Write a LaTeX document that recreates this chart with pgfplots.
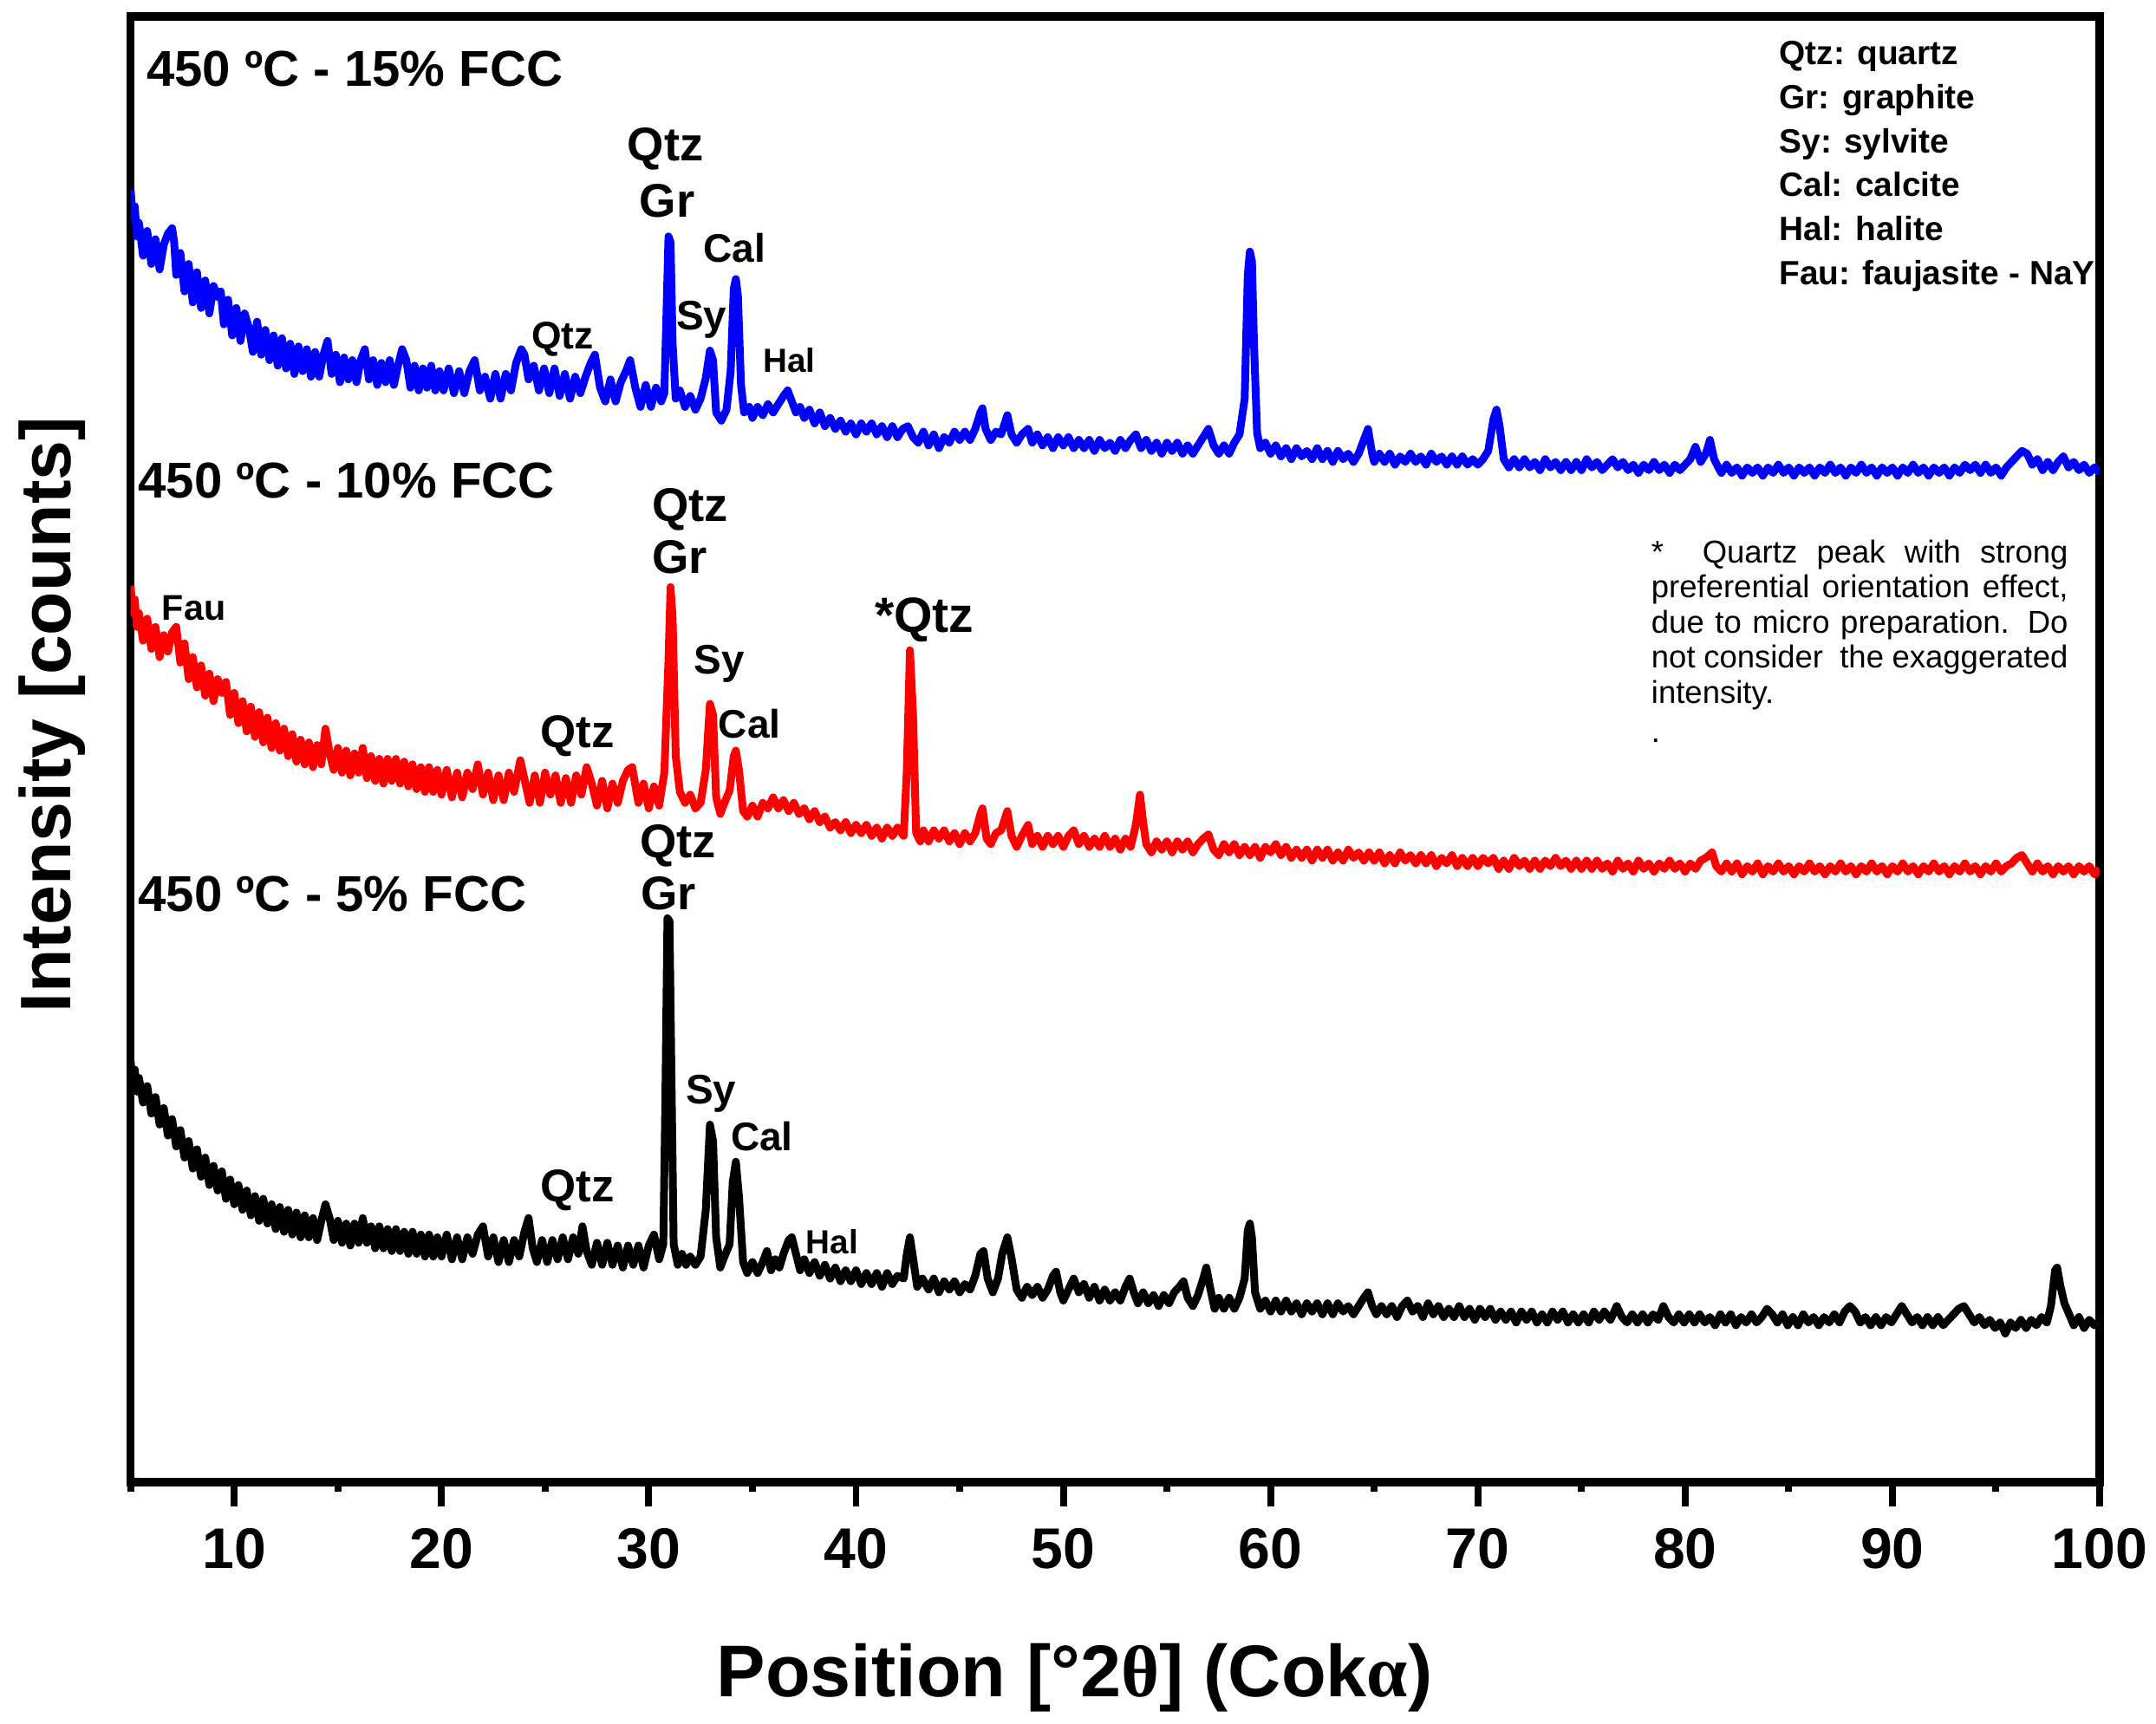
\documentclass[border=0pt]{standalone}
\usepackage{fontspec}
\setmainfont{Liberation Sans}
\newfontfamily\symf{Liberation Serif}
\usepackage{pgfplots}
\pgfplotsset{compat=1.18}
\begin{document}
\begin{tikzpicture}
\begin{axis}[
  at={(0,0)}, anchor=south west,
  width=429.6pt, height=319.8pt, scale only axis,
  xmin=5, xmax=100, ymin=12, ymax=1078, y dir=reverse,
  axis line style={line width=1.8pt},
  xtick={10,20,...,100}, minor xtick={5,15,...,95},
  ytick=\empty,
  tick align=outside, xtick pos=left,
  major tick length=5.4pt, minor tick length=2.2pt,
  tick style={line width=1.5pt, black},
  xticklabel style={font=\fontsize{12.5}{14}\selectfont\bfseries, yshift=-1.2pt},
  /pgf/number format/assume math mode=true,
]
% ---------------- 15% FCC (blue)
\addplot[blue, line width=1.7pt, line join=round, mark=none] coordinates {
(5.0,138)(5.1,158)(5.2,150)(5.3,172)(5.4,162)(5.6,186)(5.8,168)(6.0,192)(6.2,174)(6.4,196)
(6.6,178)(6.8,170)(7.0,166)(7.1,176)(7.2,200)(7.4,184)(7.6,212)(7.8,192)(8.0,220)(8.2,198)
(8.4,224)(8.6,204)(8.8,228)(9.0,208)(9.2,216)(9.35,212)(9.5,236)(9.7,218)(9.9,244)(10.1,224)
(10.3,248)(10.5,228)(10.7,238)(10.9,256)(11.1,234)(11.3,258)(11.5,240)(11.7,262)(11.9,244)(12.1,266)
(12.3,246)(12.5,268)(12.7,250)(12.9,272)(13.1,252)(13.3,270)(13.5,254)(13.7,274)(13.9,256)(14.1,274)
(14.3,258)(14.5,248)(14.7,272)(14.9,258)(15.1,278)(15.3,260)(15.5,276)(15.7,262)(15.9,278)(16.1,262)
(16.3,254)(16.5,276)(16.7,262)(16.9,280)(17.1,264)(17.3,278)(17.5,262)(17.7,280)(17.9,266)(18.1,254)
(18.3,262)(18.5,282)(18.7,266)(18.9,284)(19.1,268)(19.3,282)(19.5,266)(19.7,284)(19.9,270)(20.1,284)
(20.35,268)(20.6,286)(20.85,270)(21.1,286)(21.35,270)(21.6,262)(21.85,284)(22.1,274)(22.35,290)(22.6,272)
(22.85,290)(23.1,272)(23.35,284)(23.6,264)(23.85,254)(24.0,258)(24.2,276)(24.45,266)(24.7,284)(24.95,268)
(25.2,286)(25.45,268)(25.7,288)(25.95,272)(26.2,290)(26.45,274)(26.7,286)(26.95,274)(27.2,264)(27.4,258)
(27.65,282)(27.9,292)(28.15,276)(28.4,292)(28.65,278)(28.9,270)(29.1,262)(29.35,282)(29.6,296)(29.85,280)
(30.1,296)(30.35,282)(30.6,292)(30.75,286)
(30.85,230)(30.95,172)(31.05,176)(31.15,250)(31.3,290)(31.5,284)(31.75,296)(32.0,288)(32.25,298)(32.5,290)
(32.75,275)(32.95,255)(33.1,262)(33.25,300)(33.5,306)(33.75,298)(33.95,270)(34.1,210)(34.2,203)(34.3,215)
(34.45,280)(34.6,300)(34.85,296)(35.0,304)(35.25,296)(35.5,302)(35.75,294)(36.0,300)(36.25,294)(36.5,288)
(36.7,284)(36.9,292)(37.1,300)(37.3,296)(37.5,304)(37.75,298)(38.0,308)(38.25,300)(38.5,310)(38.75,304)
(39.0,312)(39.25,306)(39.5,314)(39.75,308)(40.0,316)(40.25,308)(40.5,314)(40.75,308)(41.0,316)(41.25,310)
(41.5,318)(41.75,310)(42.0,318)(42.25,312)(42.5,310)(42.75,318)(43.0,322)(43.25,314)(43.5,324)(43.75,316)
(44.0,326)(44.25,318)(44.5,322)(44.75,314)(45.0,320)(45.25,314)(45.5,320)(45.75,312)(46.0,300)(46.1,297)
(46.25,312)(46.5,320)(46.75,314)(47.0,316)(47.3,302)(47.5,316)(47.75,322)(48.0,316)(48.3,312)(48.5,322)
(48.75,316)(49.0,324)(49.25,318)(49.5,326)(49.75,318)(50.0,324)(50.25,318)(50.5,326)(50.75,320)(51.0,326)
(51.25,320)(51.5,328)(51.75,320)(52.0,326)(52.25,322)(52.5,328)(52.75,320)(53.0,326)(53.25,320)(53.5,316)
(53.75,326)(54.0,320)(54.25,328)(54.5,322)(54.75,330)(55.0,322)(55.25,328)(55.5,322)(55.75,330)(56.0,324)
(56.25,330)(56.5,324)(56.75,318)(57.0,312)(57.25,324)(57.5,330)(57.75,324)(58.0,330)(58.25,322)(58.5,316)
(58.75,290)(58.9,200)(59.0,183)(59.1,190)(59.2,250)(59.35,315)(59.5,326)(59.75,322)(60.0,330)(60.25,324)
(60.5,332)(60.75,326)(61.0,334)(61.25,326)(61.5,332)(61.75,328)(62.0,334)(62.25,326)(62.5,334)(62.75,328)
(63.0,336)(63.25,328)(63.5,334)(63.75,330)(64.0,336)(64.25,330)(64.5,320)(64.7,312)(64.9,330)(65.0,336)
(65.25,330)(65.5,336)(65.75,330)(66.0,338)(66.25,332)(66.5,336)(66.75,330)(67.0,336)(67.25,332)(67.5,338)
(67.75,330)(68.0,336)(68.25,332)(68.5,338)(68.75,332)(69.0,338)(69.25,332)(69.5,338)(69.75,334)(70.0,338)
(70.25,334)(70.5,328)(70.75,305)(70.9,298)(71.05,310)(71.25,334)(71.5,340)(71.75,334)(72.0,340)(72.25,334)
(72.5,340)(72.75,336)(73.0,342)(73.25,334)(73.5,340)(73.75,336)(74.0,342)(74.25,336)(74.5,342)(74.75,336)
(75.0,342)(75.25,334)(75.5,340)(75.75,336)(76.0,342)(76.25,338)(76.5,334)(76.75,340)(77.0,336)(77.25,342)
(77.5,338)(77.75,344)(78.0,338)(78.25,342)(78.5,336)(78.75,342)(79.0,338)(79.25,344)(79.5,338)(79.75,342)
(80.0,338)(80.25,334)(80.5,325)(80.75,336)(81.0,330)(81.2,320)(81.4,334)(81.6,340)(81.75,344)(82.0,338)
(82.25,344)(82.5,340)(82.75,346)(83.0,340)(83.25,344)(83.5,340)(83.75,346)(84.0,340)(84.25,344)(84.5,338)
(84.75,344)(85.0,340)(85.25,346)(85.5,340)(85.75,344)(86.0,340)(86.25,346)(86.5,340)(86.75,344)(87.0,338)
(87.25,344)(87.5,340)(87.75,346)(88.0,340)(88.25,344)(88.5,338)(88.75,344)(89.0,340)(89.25,346)(89.5,340)
(89.75,344)(90.0,340)(90.25,346)(90.5,340)(90.75,344)(91.0,338)(91.25,344)(91.5,340)(91.75,346)(92.0,340)
(92.25,344)(92.5,340)(92.75,346)(93.0,340)(93.25,344)(93.5,338)(93.75,342)(94.0,338)(94.25,344)(94.5,338)
(94.75,344)(95.0,340)(95.25,346)(95.5,340)(95.75,336)(96.0,332)(96.25,328)(96.5,330)(96.75,338)(97.0,334)
(97.25,342)(97.5,336)(97.75,342)(98.0,336)(98.25,332)(98.5,340)(98.75,336)(99.0,342)(99.25,338)(99.5,344)
(99.75,340)(100.0,344)
};
% ---------------- 10% FCC (red)
\addplot[red, line width=1.7pt, line join=round, mark=none] coordinates {
(5.0,426)(5.1,446)(5.2,436)(5.3,456)(5.4,446)(5.6,466)(5.8,450)(6.0,472)(6.2,456)(6.4,478)
(6.6,462)(6.8,474)(7.0,460)(7.2,456)(7.4,482)(7.6,468)(7.8,494)(8.0,478)(8.2,500)(8.4,484)
(8.6,506)(8.8,490)(9.0,510)(9.2,494)(9.4,504)(9.6,496)(9.8,520)(10.0,504)(10.2,526)(10.4,510)
(10.6,532)(10.8,514)(11.0,536)(11.2,518)(11.4,540)(11.6,522)(11.8,544)(12.0,526)(12.2,546)(12.4,530)
(12.6,550)(12.8,534)(13.0,554)(13.2,538)(13.4,556)(13.6,540)(13.8,558)(14.0,542)(14.2,556)(14.4,530)
(14.6,548)(14.8,560)(15.0,544)(15.2,562)(15.4,546)(15.6,564)(15.8,548)(16.0,562)(16.2,544)(16.4,566)
(16.6,550)(16.8,568)(17.0,552)(17.2,570)(17.4,552)(17.6,568)(17.8,552)(18.0,570)(18.2,554)(18.4,572)
(18.6,556)(18.8,574)(19.0,558)(19.2,576)(19.4,558)(19.6,576)(19.8,560)(20.0,578)(20.25,560)(20.5,580)
(20.75,562)(21.0,580)(21.25,562)(21.5,574)(21.75,556)(22.0,578)(22.25,562)(22.5,582)(22.75,564)(23.0,582)
(23.25,562)(23.5,576)(23.8,553)(24.05,570)(24.25,584)(24.5,564)(24.75,584)(25.0,562)(25.25,578)(25.5,564)
(25.75,584)(26.0,566)(26.25,584)(26.5,564)(26.75,578)(27.0,558)(27.25,570)(27.5,586)(27.75,568)(28.0,588)
(28.25,570)(28.5,584)(28.75,568)(29.0,560)(29.2,558)(29.5,584)(29.75,570)(30.0,588)(30.25,572)(30.5,586)
(30.75,562)
(30.95,480)(31.05,427)(31.15,450)(31.3,550)(31.5,576)(31.75,584)(32.0,578)(32.25,588)(32.5,584)(32.75,560)
(32.95,512)(33.1,520)(33.25,580)(33.45,592)(33.65,584)(33.9,575)(34.1,550)(34.2,546)(34.35,560)(34.55,590)
(34.75,594)(35.0,586)(35.25,594)(35.5,584)(35.75,588)(36.0,580)(36.25,588)(36.5,582)(36.75,590)(37.0,584)
(37.25,592)(37.5,588)(37.75,596)(38.0,590)(38.25,598)(38.5,594)(38.75,602)(39.0,598)(39.25,604)(39.5,598)
(39.75,606)(40.0,600)(40.25,606)(40.5,600)(40.75,608)(41.0,602)(41.25,610)(41.5,602)(41.75,608)(42.0,602)
(42.3,608)(42.45,560)(42.6,473)(42.75,520)(42.9,606)(43.1,612)(43.25,604)(43.5,612)(43.75,604)(44.0,610)
(44.25,604)(44.5,612)(44.75,606)(45.0,614)(45.25,606)(45.5,612)(45.75,606)(46.0,592)(46.1,588)(46.3,610)
(46.5,614)(46.75,606)(47.0,604)(47.3,590)(47.5,608)(47.75,616)(48.0,608)(48.3,600)(48.5,614)(48.75,608)
(49.0,616)(49.25,608)(49.5,614)(49.75,608)(50.0,616)(50.25,608)(50.5,604)(50.75,614)(51.0,608)(51.25,616)
(51.5,610)(51.75,616)(52.0,608)(52.25,616)(52.5,610)(52.75,618)(53.0,610)(53.25,616)(53.5,600)(53.7,578)
(53.85,598)(54.0,614)(54.25,620)(54.5,612)(54.75,618)(55.0,612)(55.25,620)(55.5,612)(55.75,618)(56.0,612)
(56.25,620)(56.5,614)(56.75,610)(57.0,607)(57.25,618)(57.5,622)(57.75,614)(58.0,620)(58.25,614)(58.5,622)
(58.75,616)(59.0,622)(59.25,616)(59.5,624)(59.75,616)(60.0,620)(60.25,614)(60.5,622)(60.75,616)(61.0,624)
(61.25,618)(61.5,624)(61.75,618)(62.0,626)(62.25,618)(62.5,624)(62.75,618)(63.0,626)(63.25,620)(63.5,626)
(63.75,618)(64.0,624)(64.25,620)(64.5,626)(64.75,620)(65.0,626)(65.25,620)(65.5,628)(65.75,622)(66.0,628)
(66.25,620)(66.5,626)(66.75,622)(67.0,628)(67.25,622)(67.5,628)(67.75,622)(68.0,630)(68.25,624)(68.5,628)
(68.75,622)(69.0,630)(69.25,624)(69.5,630)(69.75,624)(70.0,630)(70.25,624)(70.5,628)(70.75,624)(71.0,632)
(71.25,626)(71.5,632)(71.75,624)(72.0,630)(72.25,626)(72.5,632)(72.75,626)(73.0,632)(73.25,626)(73.5,630)
(73.75,624)(74.0,630)(74.25,626)(74.5,632)(74.75,626)(75.0,632)(75.25,626)(75.5,632)(75.75,626)(76.0,632)
(76.25,628)(76.5,634)(76.75,626)(77.0,632)(77.25,628)(77.5,634)(77.75,626)(78.0,632)(78.25,628)(78.5,634)
(78.75,628)(79.0,632)(79.25,626)(79.5,632)(79.75,628)(80.0,634)(80.25,628)(80.5,632)(80.75,626)(81.0,624)
(81.3,620)(81.5,630)(81.75,634)(82.0,628)(82.25,634)(82.5,628)(82.75,636)(83.0,630)(83.25,634)(83.5,628)
(83.75,636)(84.0,630)(84.25,634)(84.5,628)(84.75,634)(85.0,630)(85.25,636)(85.5,630)(85.75,634)(86.0,628)
(86.25,634)(86.5,630)(86.75,636)(87.0,630)(87.25,634)(87.5,628)(87.75,634)(88.0,630)(88.25,636)(88.5,630)
(88.75,634)(89.0,628)(89.25,634)(89.5,630)(89.75,636)(90.0,630)(90.25,634)(90.5,628)(90.75,634)(91.0,630)
(91.25,636)(91.5,630)(91.75,634)(92.0,628)(92.25,634)(92.5,630)(92.75,636)(93.0,630)(93.25,634)(93.5,628)
(93.75,634)(94.0,630)(94.25,636)(94.5,630)(94.75,634)(95.0,628)(95.25,634)(95.5,630)(95.75,628)(96.0,624)
(96.25,622)(96.5,628)(96.75,634)(97.0,628)(97.25,634)(97.5,630)(97.75,636)(98.0,630)(98.25,634)(98.5,630)
(98.75,636)(99.0,630)(99.25,634)(99.5,630)(99.75,636)(100.0,632)
};
% ---------------- 5% FCC (black)
\addplot[black, line width=1.7pt, line join=round, mark=none] coordinates {
(5.0,772)(5.1,786)(5.2,778)(5.3,794)(5.4,784)(5.6,802)(5.8,790)(6.0,810)(6.2,798)(6.4,818)
(6.6,806)(6.8,826)(7.0,814)(7.2,834)(7.4,822)(7.6,842)(7.8,830)(8.0,850)(8.2,836)(8.4,856)
(8.6,842)(8.8,862)(9.0,848)(9.2,866)(9.4,852)(9.6,872)(9.8,858)(10.0,876)(10.2,862)(10.4,880)
(10.6,866)(10.8,884)(11.0,870)(11.2,888)(11.4,872)(11.6,890)(11.8,876)(12.0,894)(12.2,878)(12.4,896)
(12.6,880)(12.8,898)(13.0,882)(13.2,900)(13.4,884)(13.6,900)(13.8,886)(14.0,902)(14.2,888)(14.4,876)
(14.6,886)(14.8,902)(15.0,888)(15.2,904)(15.4,890)(15.6,906)(15.8,890)(16.0,904)(16.2,886)(16.4,904)
(16.6,892)(16.8,908)(17.0,892)(17.2,908)(17.4,894)(17.6,910)(17.8,894)(18.0,910)(18.2,896)(18.4,912)
(18.6,896)(18.8,912)(19.0,898)(19.2,914)(19.4,898)(19.6,914)(19.8,900)(20.0,914)(20.25,898)(20.5,916)
(20.75,900)(21.0,916)(21.25,900)(21.5,912)(21.75,898)(22.0,892)(22.25,914)(22.5,900)(22.75,918)(23.0,902)
(23.25,918)(23.5,902)(23.75,914)(24.0,896)(24.2,886)(24.4,908)(24.6,918)(24.85,902)(25.1,918)(25.35,902)
(25.6,916)(25.85,900)(26.1,916)(26.35,900)(26.6,912)(26.8,892)(27.0,910)(27.25,920)(27.5,904)(27.75,920)
(28.0,904)(28.25,920)(28.5,906)(28.75,922)(29.0,906)(29.25,920)(29.5,906)(29.75,922)(30.0,906)(30.25,898)
(30.5,916)(30.7,905)
(30.8,800)(30.9,668)(31.0,670)(31.1,790)(31.2,905)(31.4,920)(31.6,912)(31.8,920)(32.0,914)
(32.25,920)(32.5,914)(32.75,880)(32.95,818)(33.1,830)(33.25,900)(33.45,922)(33.65,914)(33.9,905)(34.05,860)
(34.2,845)(34.35,870)(34.55,918)(34.75,926)(35.0,918)(35.25,926)(35.5,918)(35.7,910)(35.9,924)(36.1,916)
(36.3,922)(36.5,912)(36.75,902)(36.9,900)(37.1,912)(37.3,924)(37.5,916)(37.75,926)(38.0,918)(38.25,928)
(38.5,920)(38.75,930)(39.0,922)(39.25,932)(39.5,924)(39.75,932)(40.0,924)(40.25,934)(40.5,926)(40.75,934)
(41.0,926)(41.25,936)(41.5,926)(41.75,934)(42.0,928)(42.3,930)(42.45,912)(42.6,900)(42.75,915)(42.95,936)
(43.2,930)(43.5,938)(43.75,930)(44.0,940)(44.25,932)(44.5,938)(44.75,932)(45.0,940)(45.25,934)(45.5,938)
(45.75,928)(46.0,912)(46.15,910)(46.35,930)(46.6,940)(46.85,930)(47.05,912)(47.3,900)(47.5,915)(47.75,938)
(48.0,944)(48.25,936)(48.5,942)(48.75,936)(49.0,944)(49.25,938)(49.5,928)(49.65,925)(49.85,940)(50.0,946)
(50.25,938)(50.5,930)(50.75,940)(51.0,934)(51.25,944)(51.5,936)(51.75,946)(52.0,938)(52.25,946)(52.5,940)
(52.75,946)(53.0,936)(53.2,930)(53.4,940)(53.6,948)(53.85,940)(54.1,948)(54.35,942)(54.6,950)(54.85,942)
(55.1,948)(55.35,940)(55.6,936)(55.8,932)(56.0,944)(56.25,950)(56.5,942)(56.75,930)(56.9,922)(57.1,938)
(57.3,952)(57.5,944)(57.75,952)(58.0,944)(58.25,952)(58.5,944)(58.75,930)(58.9,895)(59.0,890)(59.1,900)
(59.25,940)(59.5,952)(59.75,946)(60.0,954)(60.25,946)(60.5,954)(60.75,946)(61.0,954)(61.25,948)(61.5,956)
(61.75,948)(62.0,954)(62.25,948)(62.5,956)(62.75,948)(63.0,956)(63.25,948)(63.5,954)(63.75,950)(64.0,956)
(64.25,950)(64.5,944)(64.7,940)(64.9,950)(65.1,956)(65.35,950)(65.6,956)(65.85,950)(66.1,958)(66.35,950)
(66.6,946)(66.85,954)(67.1,950)(67.35,958)(67.6,948)(67.85,956)(68.1,950)(68.35,958)(68.6,952)(68.85,958)
(69.1,950)(69.35,958)(69.6,952)(69.85,960)(70.1,952)(70.35,958)(70.6,952)(70.85,960)(71.1,954)(71.35,960)
(71.6,954)(71.85,962)(72.1,954)(72.35,960)(72.6,954)(72.85,962)(73.1,956)(73.35,962)(73.6,954)(73.85,960)
(74.1,954)(74.35,962)(74.6,956)(74.85,962)(75.1,956)(75.35,962)(75.6,954)(75.85,960)(76.1,954)(76.4,960)
(76.7,950)(76.95,958)(77.2,962)(77.45,956)(77.7,962)(77.95,956)(78.2,962)(78.45,956)(78.7,960)(78.95,950)
(79.2,958)(79.45,962)(79.7,956)(79.95,962)(80.2,956)(80.45,962)(80.7,956)(80.95,962)(81.2,958)(81.45,964)
(81.7,956)(81.95,962)(82.2,956)(82.45,964)(82.7,958)(82.95,962)(83.2,956)(83.45,962)(83.7,958)(83.95,952)
(84.2,956)(84.45,962)(84.7,956)(84.95,964)(85.2,958)(85.45,964)(85.7,956)(85.95,962)(86.2,958)(86.45,964)
(86.7,958)(86.95,962)(87.2,956)(87.45,962)(87.7,954)(87.95,950)(88.2,954)(88.45,962)(88.7,958)(88.95,964)
(89.2,958)(89.45,964)(89.7,958)(89.95,962)(90.2,956)(90.45,950)(90.7,956)(90.95,962)(91.2,958)(91.45,964)
(91.7,958)(91.95,964)(92.2,958)(92.45,964)(92.7,960)(92.95,956)(93.2,952)(93.45,950)(93.7,956)(93.95,962)
(94.2,958)(94.45,964)(94.7,960)(94.95,966)(95.2,962)(95.45,970)(95.7,962)(95.95,966)(96.2,960)(96.45,966)
(96.7,960)(96.95,964)(97.2,958)(97.45,962)(97.65,950)(97.85,924)(97.95,922)(98.1,935)(98.3,948)(98.5,955)
(98.75,964)(99.0,958)(99.25,966)(99.5,960)(99.75,964)(100.0,962)
};
% ---------------- sample labels
\node[anchor=base west, inner sep=0pt, font=\fontsize{11}{11}\selectfont\bfseries] at (axis cs:5.73,63) {450 ºC - 15\% FCC};
\node[anchor=base west, inner sep=0pt, font=\fontsize{11}{11}\selectfont\bfseries] at (axis cs:5.33,362) {450 ºC - 10\% FCC};
\node[anchor=base west, inner sep=0pt, font=\fontsize{11}{11}\selectfont\bfseries] at (axis cs:5.33,663) {450 ºC - 5\% FCC};
% ---------------- peak labels, blue
\node[anchor=base, inner sep=0pt, font=\fontsize{10.3}{10.3}\selectfont\bfseries] at (axis cs:30.81,117) {Qtz};
\node[anchor=base, inner sep=0pt, font=\fontsize{10.3}{10.3}\selectfont\bfseries] at (axis cs:30.88,158) {Gr};
\node[anchor=base, inner sep=0pt, font=\fontsize{8.7}{8.7}\selectfont\bfseries] at (axis cs:34.13,191) {Cal};
\node[anchor=base, inner sep=0pt, font=\fontsize{9}{9}\selectfont\bfseries] at (axis cs:32.54,240) {Sy};
\node[anchor=base, inner sep=0pt, font=\fontsize{7.3}{7.3}\selectfont\bfseries] at (axis cs:36.78,271) {Hal};
\node[anchor=base, inner sep=0pt, font=\fontsize{8.4}{8.4}\selectfont\bfseries] at (axis cs:25.84,254) {Qtz};
% ---------------- peak labels, red
\node[anchor=base, inner sep=0pt, font=\fontsize{10.3}{10.3}\selectfont\bfseries] at (axis cs:32.0,379) {Qtz};
\node[anchor=base, inner sep=0pt, font=\fontsize{10.3}{10.3}\selectfont\bfseries] at (axis cs:31.5,417) {Gr};
\node[anchor=base, inner sep=0pt, font=\fontsize{9}{9}\selectfont\bfseries] at (axis cs:33.4,490) {Sy};
\node[anchor=base, inner sep=0pt, font=\fontsize{8.7}{8.7}\selectfont\bfseries] at (axis cs:34.86,537) {Cal};
\node[anchor=base, inner sep=0pt, font=\fontsize{10.8}{10.8}\selectfont\bfseries] at (axis cs:43.29,460) {*Qtz};
\node[anchor=base, inner sep=0pt, font=\fontsize{10}{10}\selectfont\bfseries] at (axis cs:26.57,544) {Qtz};
\node[anchor=base, inner sep=0pt, font=\fontsize{7.8}{7.8}\selectfont\bfseries] at (axis cs:8.05,451) {Fau};
% ---------------- peak labels, black
\node[anchor=base, inner sep=0pt, font=\fontsize{10.3}{10.3}\selectfont\bfseries] at (axis cs:31.41,624) {Qtz};
\node[anchor=base, inner sep=0pt, font=\fontsize{10.3}{10.3}\selectfont\bfseries] at (axis cs:30.95,662) {Gr};
\node[anchor=base, inner sep=0pt, font=\fontsize{9}{9}\selectfont\bfseries] at (axis cs:33.0,803) {Sy};
\node[anchor=base, inner sep=0pt, font=\fontsize{8.7}{8.7}\selectfont\bfseries] at (axis cs:35.46,837) {Cal};
\node[anchor=base, inner sep=0pt, font=\fontsize{10}{10}\selectfont\bfseries] at (axis cs:26.57,874) {Qtz};
\node[anchor=base, inner sep=0pt, font=\fontsize{7.3}{7.3}\selectfont\bfseries] at (axis cs:38.84,912) {Hal};
% ---------------- legend of phases
\node[anchor=base west, inner sep=0pt, font=\fontsize{7.35}{7.35}\selectfont\bfseries] at (axis cs:84.5,47) {Qtz: quartz};
\node[anchor=base west, inner sep=0pt, font=\fontsize{7.35}{7.35}\selectfont\bfseries] at (axis cs:84.5,79) {Gr: graphite};
\node[anchor=base west, inner sep=0pt, font=\fontsize{7.35}{7.35}\selectfont\bfseries] at (axis cs:84.5,111) {Sy: sylvite};
\node[anchor=base west, inner sep=0pt, font=\fontsize{7.35}{7.35}\selectfont\bfseries] at (axis cs:84.5,143) {Cal: calcite};
\node[anchor=base west, inner sep=0pt, font=\fontsize{7.35}{7.35}\selectfont\bfseries] at (axis cs:84.5,175) {Hal: halite};
\node[anchor=base west, inner sep=0pt, font=\fontsize{7.35}{7.35}\selectfont\bfseries] at (axis cs:84.5,207) {Fau: faujasite - NaY};
% ---------------- note
\node[anchor=north west, inner sep=0pt, text width=90.9pt, align=justify,
      font=\fontsize{6.9}{7.65}\selectfont] at (axis cs:78.33,392)
  {*\ \ Quartz peak with strong\linebreak preferential orientation effect,\linebreak due to micro preparation. Do\linebreak not consider\ \ the exaggerated\linebreak intensity.\\[1pt] .};
\end{axis}
% axis titles
\node[anchor=base, inner sep=0pt, font=\fontsize{16}{16}\selectfont\bfseries] at (205.95pt,-46.8pt)
  {Position [°2{\symf θ}] (Cok{\symf α})};
\node[anchor=base, rotate=90, inner sep=0pt, font=\fontsize{15.6}{15.6}\selectfont\bfseries] at (-13pt,167.4pt)
  {Intensity [counts]};
\pgfresetboundingbox
\path[use as bounding box] (-28.5pt,-52.8pt) rectangle (441.9pt,323.4pt);
\end{tikzpicture}
\end{document}
